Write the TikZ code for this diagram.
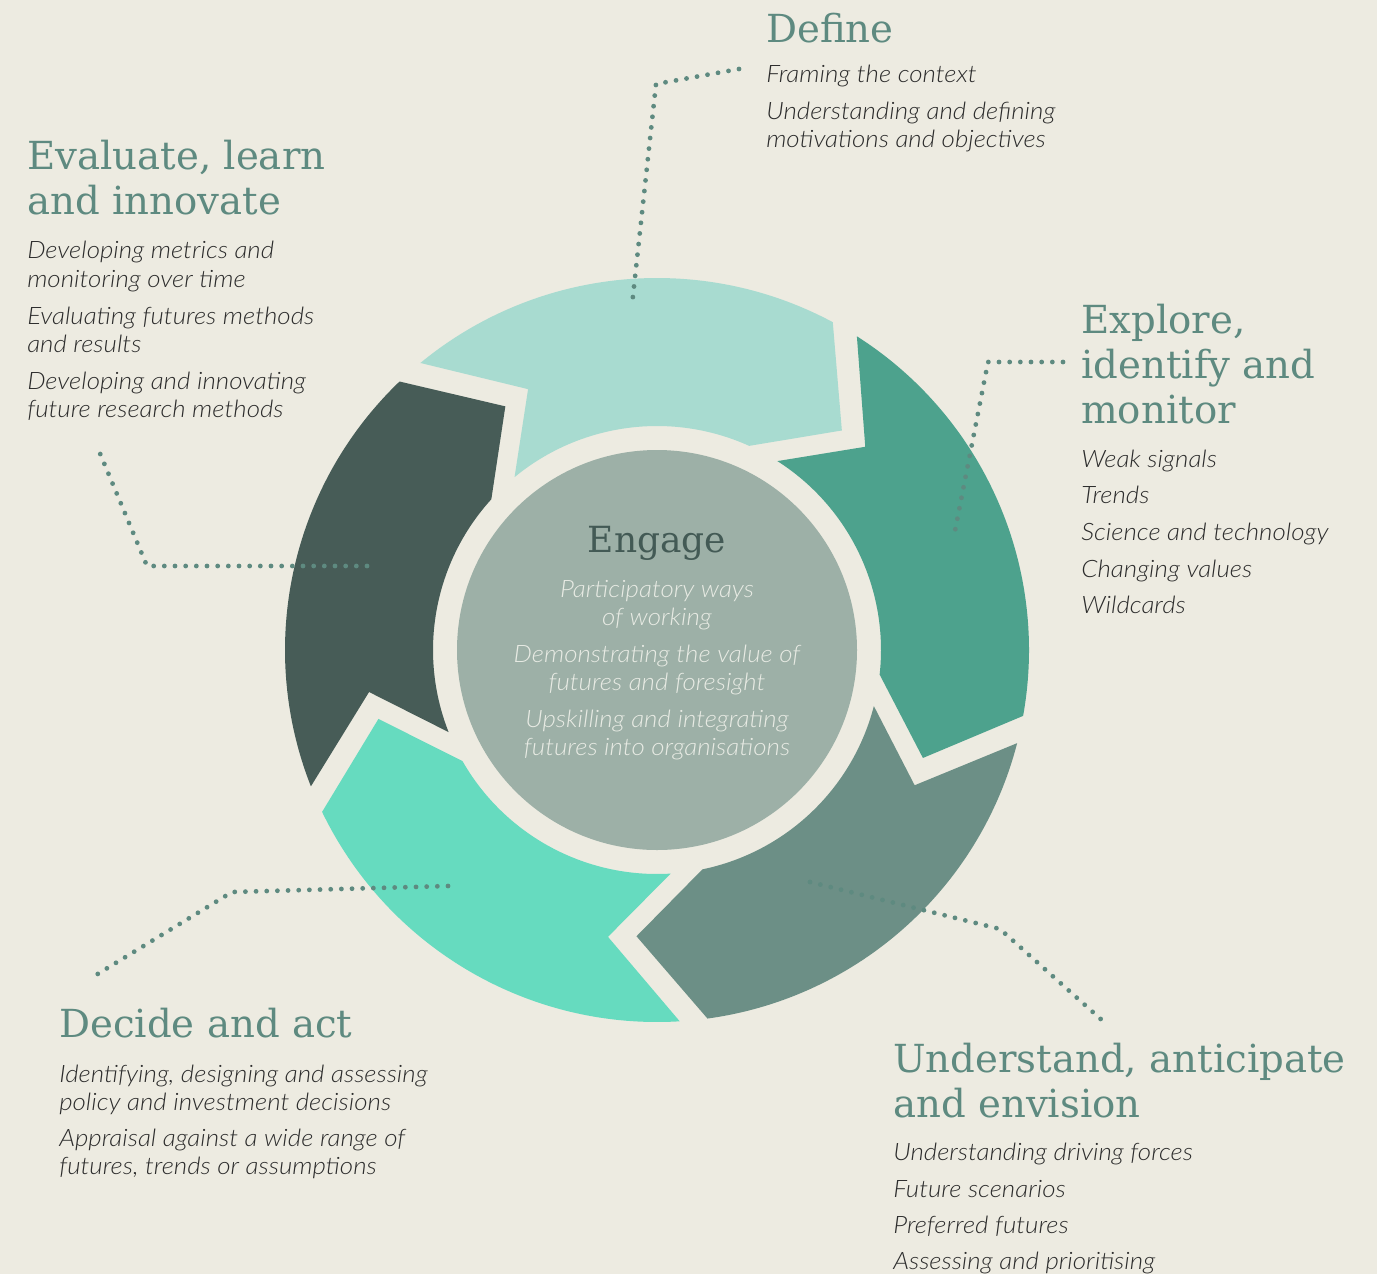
\documentclass[tikz,border=0pt]{standalone}
\usepackage{fontspec}
\setmainfont{Lato}
\newfontfamily\headfont{DejaVu Serif}
\newfontfamily\bodyfont{Lato Light}[FakeStretch=1.08, ItalicFont={Lato Light Italic}]

\definecolor{bg}{HTML}{EDEBE1}
\definecolor{segdefine}{HTML}{A8DBD0}
\definecolor{segexplore}{HTML}{4DA28D}
\definecolor{segunderstand}{HTML}{6C8F86}
\definecolor{segdecide}{HTML}{66DBBF}
\definecolor{segevaluate}{HTML}{475C57}
\definecolor{hubfill}{HTML}{9DB0A7}
\definecolor{headteal}{HTML}{5E8A80}
\definecolor{engagehead}{HTML}{435A55}
\definecolor{bodytext}{HTML}{2C2C2C}
\definecolor{hubtext}{HTML}{E8EBE4}
\definecolor{leadercol}{HTML}{5E8A80}

% one curved arrow of the cycle: #1 = tail angle, #2 = fill colour
\newcommand{\cyclearrow}[2]{%
  \pgfmathsetmacro{\cyHead}{#1-67.7}%
  \pgfmathsetmacro{\cyTip}{\cyHead-11.9}%
  \pgfmathsetmacro{\cyHin}{\cyHead+3.9}%
  \pgfmathsetmacro{\cyNotch}{#1-13.2}%
  \fill[#2] (#1:372) arc[start angle=#1, end angle=\cyHead, radius=372]
    -- (\cyTip:287) -- (\cyHin:224)
    arc[start angle=\cyHin, end angle=#1, radius=224]
    -- (\cyNotch:291) -- cycle;
}

\tikzset{
  headline/.style={anchor=base west, inner sep=0pt, text=headteal,
    font=\headfont\fontsize{29}{34}\selectfont},
  bodyline/.style={anchor=base west, inner sep=0pt, text=bodytext,
    font=\bodyfont\itshape\fontsize{18}{21}\selectfont},
  hubline/.style={anchor=base, inner sep=0pt, text=hubtext,
    font=\bodyfont\itshape\fontsize{18}{21}\selectfont},
  leader/.style={draw=leadercol, line width=3.6pt, line cap=round,
    dash pattern=on 0pt off 8pt},
}

\begin{document}
\begin{tikzpicture}[x=0.75pt, y=-0.75pt]
  \useasboundingbox (0,0) rectangle (1377,1274);
  \fill[bg] (0,0) rectangle (1377,1274);

  % the five arrows of the cycle
  \begin{scope}[shift={(657,650)}, yscale=-1]
    \cyclearrow{129.5}{segdefine}
    \cyclearrow{57.5}{segexplore}
    \cyclearrow{-14.5}{segunderstand}
    \cyclearrow{-86.5}{segdecide}
    \cyclearrow{-158.5}{segevaluate}
  \end{scope}

  % central hub
  \node (hub) [circle, fill=hubfill, minimum size=300pt, inner sep=0pt] at (657,650) {};
  \node (eng-t) [anchor=base, inner sep=0pt, text=engagehead,
    font=\headfont\fontsize{27}{32}\selectfont] at (657,552) {Engage};
  \node[hubline] (eng-1) at (657,597) {Participatory ways};
  \node[hubline] (eng-2) at (657,625) {of working};
  \node[hubline] (eng-3) at (657,662) {Demonstrating the value of};
  \node[hubline] (eng-4) at (657,690) {futures and foresight};
  \node[hubline] (eng-5) at (657,727) {Upskilling and integrating};
  \node[hubline] (eng-6) at (657,755) {futures into organisations};

  % Define
  \node[headline] (def-t) at (766,42) {Define};
  \node[bodyline] (def-1) at (766,82) {Framing the context};
  \node[bodyline] (def-2) at (766,119) {Understanding and defining};
  \node[bodyline] (def-3) at (766,147) {motivations and objectives};

  % Evaluate
  \node[headline] (eva-t1) at (27,169) {Evaluate, learn};
  \node[headline] (eva-t2) at (27,214) {and innovate};
  \node[bodyline] (eva-1) at (27,258) {Developing metrics and};
  \node[bodyline] (eva-2) at (27,287) {monitoring over time};
  \node[bodyline] (eva-3) at (27,324) {Evaluating futures methods};
  \node[bodyline] (eva-4) at (27,352) {and results};
  \node[bodyline] (eva-5) at (27,389) {Developing and innovating};
  \node[bodyline] (eva-6) at (27,417) {future research methods};

  % Explore
  \node[headline] (exp-t1) at (1081,333) {Explore,};
  \node[headline] (exp-t2) at (1081,378) {identify and};
  \node[headline] (exp-t3) at (1081,423) {monitor};
  \node[bodyline] (exp-1) at (1081,467) {Weak signals};
  \node[bodyline] (exp-2) at (1081,503) {Trends};
  \node[bodyline] (exp-3) at (1081,540) {Science and technology};
  \node[bodyline] (exp-4) at (1081,577) {Changing values};
  \node[bodyline] (exp-5) at (1081,613) {Wildcards};

  % Understand
  \node[headline] (und-t1) at (893,1072) {Understand, anticipate};
  \node[headline] (und-t2) at (893,1117) {and envision};
  \node[bodyline] (und-1) at (893,1160) {Understanding driving forces};
  \node[bodyline] (und-2) at (893,1197) {Future scenarios};
  \node[bodyline] (und-3) at (893,1233) {Preferred futures};
  \node[bodyline] (und-4) at (893,1269) {Assessing and prioritising};

  % Decide
  \node[headline] (dec-t) at (59,1037) {Decide and act};
  \node[bodyline] (dec-1) at (59,1082) {Identifying, designing and assessing};
  \node[bodyline] (dec-2) at (59,1110) {policy and investment decisions};
  \node[bodyline] (dec-3) at (59,1146) {Appraisal against a wide range of};
  \node[bodyline] (dec-4) at (59,1174) {futures, trends or assumptions};

  % dotted leaders
  \coordinate (ld-def-a) at (739,69);
  \coordinate (ld-def-b) at (656,84);
  \coordinate (ld-def-c) at (632,305);
  \coordinate (ld-exp-a) at (1063,362);
  \coordinate (ld-exp-b) at (988,362);
  \coordinate (ld-exp-c) at (954,536);
  \coordinate (ld-und-a) at (810,882);
  \coordinate (ld-und-b) at (1000,929);
  \coordinate (ld-und-c) at (1104,1022);
  \coordinate (ld-dec-a) at (448,886);
  \coordinate (ld-dec-b) at (232,892);
  \coordinate (ld-dec-c) at (96,975);
  \coordinate (ld-eva-a) at (367,566);
  \coordinate (ld-eva-b) at (147,566);
  \coordinate (ld-eva-c) at (99,451);

  \draw[leader] (ld-def-a) -- (ld-def-b) -- (ld-def-c);
  \draw[leader] (ld-exp-a) -- (ld-exp-b) -- (ld-exp-c);
  \draw[leader] (ld-und-a) -- (ld-und-b) -- (ld-und-c);
  \draw[leader] (ld-dec-a) -- (ld-dec-b) -- (ld-dec-c);
  \draw[leader] (ld-eva-a) -- (ld-eva-b) -- (ld-eva-c);
\end{tikzpicture}
\end{document}
